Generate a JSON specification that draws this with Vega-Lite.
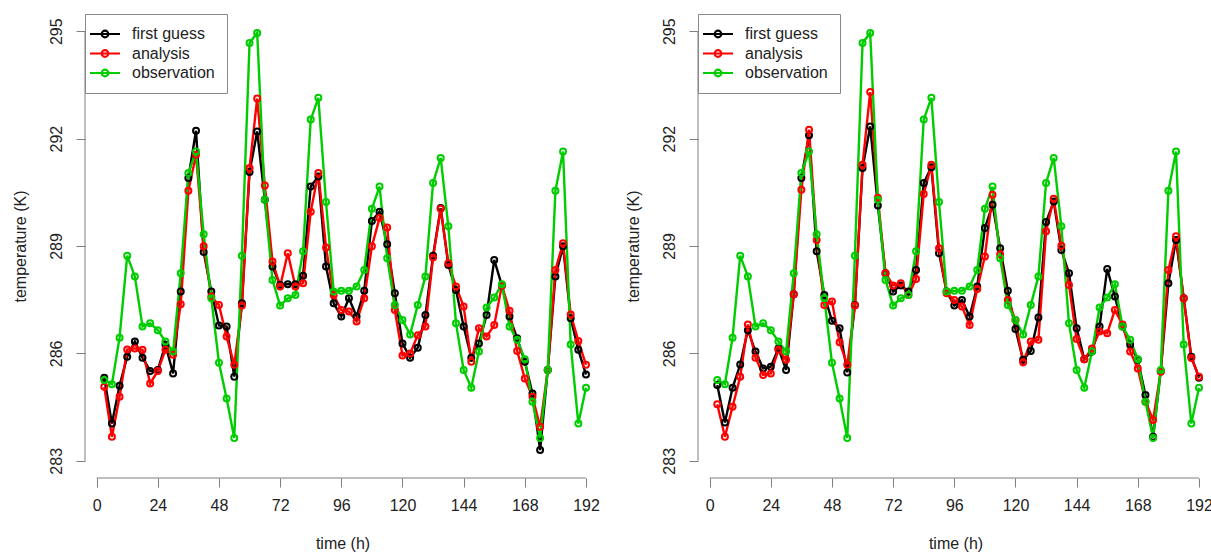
{
  "$schema": "https://vega.github.io/schema/vega-lite/v6.json",
  "padding": {"left": 12, "top": 13, "right": 5, "bottom": 5},
  "background": "white",
  "bounds": "flush",
  "spacing": 98,
  "config": {
    "font": "Liberation Sans",
    "view": {"stroke": null},
    "axis": {"grid": false, "domain": false, "tickColor": "#7f7f7f", "tickSize": 9, "labelFontSize": 16, "titleFontSize": 16, "titleFontWeight": "normal", "labelColor": "#222222", "titleColor": "#222222", "labelFlush": false, "labelOverlap": false, "labelBound": false},
    "legend": {"orient": "top-left", "offset": 0, "padding": 12, "strokeColor": "#888888", "fillColor": "white", "labelFontSize": 16, "labelColor": "#222222", "symbolSize": 100, "symbolStrokeWidth": 2.2, "labelOffset": 19, "rowPadding": 3.5, "cornerRadius": 0}
  },
  "datasets": {
    "d": [
      {"p":"L","s":"first guess","t":3,"v":285.32},{"p":"L","s":"first guess","t":6,"v":284.04},{"p":"L","s":"first guess","t":9,"v":285.10},{"p":"L","s":"first guess","t":12,"v":285.91},{"p":"L","s":"first guess","t":15,"v":286.33},{"p":"L","s":"first guess","t":18,"v":285.88},{"p":"L","s":"first guess","t":21,"v":285.51},{"p":"L","s":"first guess","t":24,"v":285.54},{"p":"L","s":"first guess","t":27,"v":286.24},{"p":"L","s":"first guess","t":30,"v":285.44},{"p":"L","s":"first guess","t":33,"v":287.73},{"p":"L","s":"first guess","t":36,"v":290.90},{"p":"L","s":"first guess","t":39,"v":292.22},{"p":"L","s":"first guess","t":42,"v":288.83},{"p":"L","s":"first guess","t":45,"v":287.73},{"p":"L","s":"first guess","t":48,"v":286.78},{"p":"L","s":"first guess","t":51,"v":286.75},{"p":"L","s":"first guess","t":54,"v":285.35},{"p":"L","s":"first guess","t":57,"v":287.40},{"p":"L","s":"first guess","t":60,"v":291.07},{"p":"L","s":"first guess","t":63,"v":292.20},{"p":"L","s":"first guess","t":66,"v":290.29},{"p":"L","s":"first guess","t":69,"v":288.43},{"p":"L","s":"first guess","t":72,"v":287.91},{"p":"L","s":"first guess","t":75,"v":287.93},{"p":"L","s":"first guess","t":78,"v":287.93},{"p":"L","s":"first guess","t":81,"v":288.17},{"p":"L","s":"first guess","t":84,"v":290.66},{"p":"L","s":"first guess","t":87,"v":290.94},{"p":"L","s":"first guess","t":90,"v":288.43},{"p":"L","s":"first guess","t":93,"v":287.40},{"p":"L","s":"first guess","t":96,"v":287.03},{"p":"L","s":"first guess","t":99,"v":287.54},{"p":"L","s":"first guess","t":102,"v":287.03},{"p":"L","s":"first guess","t":105,"v":287.75},{"p":"L","s":"first guess","t":108,"v":289.70},{"p":"L","s":"first guess","t":111,"v":289.96},{"p":"L","s":"first guess","t":114,"v":289.05},{"p":"L","s":"first guess","t":117,"v":287.68},{"p":"L","s":"first guess","t":120,"v":286.28},{"p":"L","s":"first guess","t":123,"v":285.88},{"p":"L","s":"first guess","t":126,"v":286.16},{"p":"L","s":"first guess","t":129,"v":287.07},{"p":"L","s":"first guess","t":132,"v":288.73},{"p":"L","s":"first guess","t":135,"v":290.06},{"p":"L","s":"first guess","t":138,"v":288.47},{"p":"L","s":"first guess","t":141,"v":287.77},{"p":"L","s":"first guess","t":144,"v":286.75},{"p":"L","s":"first guess","t":147,"v":285.88},{"p":"L","s":"first guess","t":150,"v":286.28},{"p":"L","s":"first guess","t":153,"v":287.07},{"p":"L","s":"first guess","t":156,"v":288.61},{"p":"L","s":"first guess","t":159,"v":287.90},{"p":"L","s":"first guess","t":162,"v":287.03},{"p":"L","s":"first guess","t":165,"v":286.42},{"p":"L","s":"first guess","t":168,"v":285.77},{"p":"L","s":"first guess","t":171,"v":284.88},{"p":"L","s":"first guess","t":174,"v":283.30},{"p":"L","s":"first guess","t":177,"v":285.54},{"p":"L","s":"first guess","t":180,"v":288.15},{"p":"L","s":"first guess","t":183,"v":288.99},{"p":"L","s":"first guess","t":186,"v":286.98},{"p":"L","s":"first guess","t":189,"v":286.10},{"p":"L","s":"first guess","t":192,"v":285.41},
      {"p":"L","s":"analysis","t":3,"v":285.07},{"p":"L","s":"analysis","t":6,"v":283.67},{"p":"L","s":"analysis","t":9,"v":284.79},{"p":"L","s":"analysis","t":12,"v":286.11},{"p":"L","s":"analysis","t":15,"v":286.14},{"p":"L","s":"analysis","t":18,"v":286.10},{"p":"L","s":"analysis","t":21,"v":285.16},{"p":"L","s":"analysis","t":24,"v":285.51},{"p":"L","s":"analysis","t":27,"v":286.10},{"p":"L","s":"analysis","t":30,"v":285.96},{"p":"L","s":"analysis","t":33,"v":287.37},{"p":"L","s":"analysis","t":36,"v":290.54},{"p":"L","s":"analysis","t":39,"v":291.55},{"p":"L","s":"analysis","t":42,"v":288.99},{"p":"L","s":"analysis","t":45,"v":287.59},{"p":"L","s":"analysis","t":48,"v":287.35},{"p":"L","s":"analysis","t":51,"v":286.47},{"p":"L","s":"analysis","t":54,"v":285.68},{"p":"L","s":"analysis","t":57,"v":287.34},{"p":"L","s":"analysis","t":60,"v":291.18},{"p":"L","s":"analysis","t":63,"v":293.12},{"p":"L","s":"analysis","t":66,"v":290.69},{"p":"L","s":"analysis","t":69,"v":288.57},{"p":"L","s":"analysis","t":72,"v":287.87},{"p":"L","s":"analysis","t":75,"v":288.80},{"p":"L","s":"analysis","t":78,"v":287.87},{"p":"L","s":"analysis","t":81,"v":287.96},{"p":"L","s":"analysis","t":84,"v":289.96},{"p":"L","s":"analysis","t":87,"v":291.04},{"p":"L","s":"analysis","t":90,"v":288.96},{"p":"L","s":"analysis","t":93,"v":287.63},{"p":"L","s":"analysis","t":96,"v":287.21},{"p":"L","s":"analysis","t":99,"v":287.17},{"p":"L","s":"analysis","t":102,"v":286.89},{"p":"L","s":"analysis","t":105,"v":287.54},{"p":"L","s":"analysis","t":108,"v":288.99},{"p":"L","s":"analysis","t":111,"v":289.78},{"p":"L","s":"analysis","t":114,"v":289.52},{"p":"L","s":"analysis","t":117,"v":287.21},{"p":"L","s":"analysis","t":120,"v":285.94},{"p":"L","s":"analysis","t":123,"v":286.00},{"p":"L","s":"analysis","t":126,"v":286.51},{"p":"L","s":"analysis","t":129,"v":286.75},{"p":"L","s":"analysis","t":132,"v":288.68},{"p":"L","s":"analysis","t":135,"v":290.04},{"p":"L","s":"analysis","t":138,"v":288.52},{"p":"L","s":"analysis","t":141,"v":287.87},{"p":"L","s":"analysis","t":144,"v":287.31},{"p":"L","s":"analysis","t":147,"v":285.77},{"p":"L","s":"analysis","t":150,"v":286.70},{"p":"L","s":"analysis","t":153,"v":286.47},{"p":"L","s":"analysis","t":156,"v":286.79},{"p":"L","s":"analysis","t":159,"v":287.90},{"p":"L","s":"analysis","t":162,"v":287.19},{"p":"L","s":"analysis","t":165,"v":286.07},{"p":"L","s":"analysis","t":168,"v":285.30},{"p":"L","s":"analysis","t":171,"v":284.79},{"p":"L","s":"analysis","t":174,"v":283.95},{"p":"L","s":"analysis","t":177,"v":285.54},{"p":"L","s":"analysis","t":180,"v":288.33},{"p":"L","s":"analysis","t":183,"v":289.08},{"p":"L","s":"analysis","t":186,"v":287.09},{"p":"L","s":"analysis","t":189,"v":286.35},{"p":"L","s":"analysis","t":192,"v":285.68},
      {"p":"R","s":"first guess","t":3,"v":285.12},{"p":"R","s":"first guess","t":6,"v":284.07},{"p":"R","s":"first guess","t":9,"v":285.04},{"p":"R","s":"first guess","t":12,"v":285.69},{"p":"R","s":"first guess","t":15,"v":286.65},{"p":"R","s":"first guess","t":18,"v":286.05},{"p":"R","s":"first guess","t":21,"v":285.58},{"p":"R","s":"first guess","t":24,"v":285.63},{"p":"R","s":"first guess","t":27,"v":286.14},{"p":"R","s":"first guess","t":30,"v":285.54},{"p":"R","s":"first guess","t":33,"v":287.65},{"p":"R","s":"first guess","t":36,"v":290.90},{"p":"R","s":"first guess","t":39,"v":292.09},{"p":"R","s":"first guess","t":42,"v":288.85},{"p":"R","s":"first guess","t":45,"v":287.63},{"p":"R","s":"first guess","t":48,"v":286.91},{"p":"R","s":"first guess","t":51,"v":286.70},{"p":"R","s":"first guess","t":54,"v":285.47},{"p":"R","s":"first guess","t":57,"v":287.35},{"p":"R","s":"first guess","t":60,"v":291.18},{"p":"R","s":"first guess","t":63,"v":292.34},{"p":"R","s":"first guess","t":66,"v":290.13},{"p":"R","s":"first guess","t":69,"v":288.24},{"p":"R","s":"first guess","t":72,"v":287.73},{"p":"R","s":"first guess","t":75,"v":287.90},{"p":"R","s":"first guess","t":78,"v":287.73},{"p":"R","s":"first guess","t":81,"v":288.33},{"p":"R","s":"first guess","t":84,"v":290.76},{"p":"R","s":"first guess","t":87,"v":291.20},{"p":"R","s":"first guess","t":90,"v":288.80},{"p":"R","s":"first guess","t":93,"v":287.73},{"p":"R","s":"first guess","t":96,"v":287.34},{"p":"R","s":"first guess","t":99,"v":287.49},{"p":"R","s":"first guess","t":102,"v":287.03},{"p":"R","s":"first guess","t":105,"v":287.87},{"p":"R","s":"first guess","t":108,"v":289.50},{"p":"R","s":"first guess","t":111,"v":290.15},{"p":"R","s":"first guess","t":114,"v":288.94},{"p":"R","s":"first guess","t":117,"v":287.75},{"p":"R","s":"first guess","t":120,"v":286.68},{"p":"R","s":"first guess","t":123,"v":285.82},{"p":"R","s":"first guess","t":126,"v":286.07},{"p":"R","s":"first guess","t":129,"v":287.00},{"p":"R","s":"first guess","t":132,"v":289.67},{"p":"R","s":"first guess","t":135,"v":290.24},{"p":"R","s":"first guess","t":138,"v":288.89},{"p":"R","s":"first guess","t":141,"v":288.24},{"p":"R","s":"first guess","t":144,"v":286.70},{"p":"R","s":"first guess","t":147,"v":285.84},{"p":"R","s":"first guess","t":150,"v":286.05},{"p":"R","s":"first guess","t":153,"v":286.75},{"p":"R","s":"first guess","t":156,"v":288.36},{"p":"R","s":"first guess","t":159,"v":287.59},{"p":"R","s":"first guess","t":162,"v":286.75},{"p":"R","s":"first guess","t":165,"v":286.24},{"p":"R","s":"first guess","t":168,"v":285.82},{"p":"R","s":"first guess","t":171,"v":284.84},{"p":"R","s":"first guess","t":174,"v":283.67},{"p":"R","s":"first guess","t":177,"v":285.51},{"p":"R","s":"first guess","t":180,"v":287.96},{"p":"R","s":"first guess","t":183,"v":289.17},{"p":"R","s":"first guess","t":186,"v":287.54},{"p":"R","s":"first guess","t":189,"v":285.91},{"p":"R","s":"first guess","t":192,"v":285.32},
      {"p":"R","s":"analysis","t":3,"v":284.58},{"p":"R","s":"analysis","t":6,"v":283.67},{"p":"R","s":"analysis","t":9,"v":284.51},{"p":"R","s":"analysis","t":12,"v":285.35},{"p":"R","s":"analysis","t":15,"v":286.81},{"p":"R","s":"analysis","t":18,"v":285.88},{"p":"R","s":"analysis","t":21,"v":285.40},{"p":"R","s":"analysis","t":24,"v":285.44},{"p":"R","s":"analysis","t":27,"v":286.10},{"p":"R","s":"analysis","t":30,"v":285.82},{"p":"R","s":"analysis","t":33,"v":287.65},{"p":"R","s":"analysis","t":36,"v":290.57},{"p":"R","s":"analysis","t":39,"v":292.25},{"p":"R","s":"analysis","t":42,"v":289.17},{"p":"R","s":"analysis","t":45,"v":287.35},{"p":"R","s":"analysis","t":48,"v":287.45},{"p":"R","s":"analysis","t":51,"v":286.31},{"p":"R","s":"analysis","t":54,"v":285.68},{"p":"R","s":"analysis","t":57,"v":287.34},{"p":"R","s":"analysis","t":60,"v":291.27},{"p":"R","s":"analysis","t":63,"v":293.30},{"p":"R","s":"analysis","t":66,"v":290.35},{"p":"R","s":"analysis","t":69,"v":288.24},{"p":"R","s":"analysis","t":72,"v":287.90},{"p":"R","s":"analysis","t":75,"v":287.96},{"p":"R","s":"analysis","t":78,"v":287.63},{"p":"R","s":"analysis","t":81,"v":288.08},{"p":"R","s":"analysis","t":84,"v":290.45},{"p":"R","s":"analysis","t":87,"v":291.27},{"p":"R","s":"analysis","t":90,"v":288.94},{"p":"R","s":"analysis","t":93,"v":287.68},{"p":"R","s":"analysis","t":96,"v":287.49},{"p":"R","s":"analysis","t":99,"v":287.31},{"p":"R","s":"analysis","t":102,"v":286.79},{"p":"R","s":"analysis","t":105,"v":287.80},{"p":"R","s":"analysis","t":108,"v":288.71},{"p":"R","s":"analysis","t":111,"v":290.43},{"p":"R","s":"analysis","t":114,"v":288.77},{"p":"R","s":"analysis","t":117,"v":287.49},{"p":"R","s":"analysis","t":120,"v":286.93},{"p":"R","s":"analysis","t":123,"v":285.75},{"p":"R","s":"analysis","t":126,"v":286.33},{"p":"R","s":"analysis","t":129,"v":286.38},{"p":"R","s":"analysis","t":132,"v":289.41},{"p":"R","s":"analysis","t":135,"v":290.32},{"p":"R","s":"analysis","t":138,"v":289.01},{"p":"R","s":"analysis","t":141,"v":287.91},{"p":"R","s":"analysis","t":144,"v":286.40},{"p":"R","s":"analysis","t":147,"v":285.84},{"p":"R","s":"analysis","t":150,"v":286.14},{"p":"R","s":"analysis","t":153,"v":286.61},{"p":"R","s":"analysis","t":156,"v":286.56},{"p":"R","s":"analysis","t":159,"v":287.21},{"p":"R","s":"analysis","t":162,"v":286.81},{"p":"R","s":"analysis","t":165,"v":286.05},{"p":"R","s":"analysis","t":168,"v":285.58},{"p":"R","s":"analysis","t":171,"v":284.65},{"p":"R","s":"analysis","t":174,"v":284.14},{"p":"R","s":"analysis","t":177,"v":285.49},{"p":"R","s":"analysis","t":180,"v":288.33},{"p":"R","s":"analysis","t":183,"v":289.27},{"p":"R","s":"analysis","t":186,"v":287.54},{"p":"R","s":"analysis","t":189,"v":285.87},{"p":"R","s":"analysis","t":192,"v":285.35},
      {"p":"B","s":"observation","t":3,"v":285.26},{"p":"B","s":"observation","t":6,"v":285.14},{"p":"B","s":"observation","t":9,"v":286.44},{"p":"B","s":"observation","t":12,"v":288.73},{"p":"B","s":"observation","t":15,"v":288.15},{"p":"B","s":"observation","t":18,"v":286.75},{"p":"B","s":"observation","t":21,"v":286.84},{"p":"B","s":"observation","t":24,"v":286.65},{"p":"B","s":"observation","t":27,"v":286.33},{"p":"B","s":"observation","t":30,"v":286.05},{"p":"B","s":"observation","t":33,"v":288.24},{"p":"B","s":"observation","t":36,"v":291.04},{"p":"B","s":"observation","t":39,"v":291.64},{"p":"B","s":"observation","t":42,"v":289.33},{"p":"B","s":"observation","t":45,"v":287.54},{"p":"B","s":"observation","t":48,"v":285.74},{"p":"B","s":"observation","t":51,"v":284.74},{"p":"B","s":"observation","t":54,"v":283.64},{"p":"B","s":"observation","t":57,"v":288.73},{"p":"B","s":"observation","t":60,"v":294.67},{"p":"B","s":"observation","t":63,"v":294.95},{"p":"B","s":"observation","t":66,"v":290.29},{"p":"B","s":"observation","t":69,"v":288.05},{"p":"B","s":"observation","t":72,"v":287.34},{"p":"B","s":"observation","t":75,"v":287.54},{"p":"B","s":"observation","t":78,"v":287.63},{"p":"B","s":"observation","t":81,"v":288.85},{"p":"B","s":"observation","t":84,"v":292.53},{"p":"B","s":"observation","t":87,"v":293.14},{"p":"B","s":"observation","t":90,"v":290.23},{"p":"B","s":"observation","t":93,"v":287.73},{"p":"B","s":"observation","t":96,"v":287.75},{"p":"B","s":"observation","t":99,"v":287.75},{"p":"B","s":"observation","t":102,"v":287.87},{"p":"B","s":"observation","t":105,"v":288.33},{"p":"B","s":"observation","t":108,"v":290.04},{"p":"B","s":"observation","t":111,"v":290.66},{"p":"B","s":"observation","t":114,"v":288.66},{"p":"B","s":"observation","t":117,"v":287.35},{"p":"B","s":"observation","t":120,"v":286.93},{"p":"B","s":"observation","t":123,"v":286.53},{"p":"B","s":"observation","t":126,"v":287.35},{"p":"B","s":"observation","t":129,"v":288.15},{"p":"B","s":"observation","t":132,"v":290.76},{"p":"B","s":"observation","t":135,"v":291.46},{"p":"B","s":"observation","t":138,"v":289.55},{"p":"B","s":"observation","t":141,"v":286.84},{"p":"B","s":"observation","t":144,"v":285.54},{"p":"B","s":"observation","t":147,"v":285.04},{"p":"B","s":"observation","t":150,"v":286.05},{"p":"B","s":"observation","t":153,"v":287.28},{"p":"B","s":"observation","t":156,"v":287.56},{"p":"B","s":"observation","t":159,"v":287.93},{"p":"B","s":"observation","t":162,"v":286.75},{"p":"B","s":"observation","t":165,"v":286.38},{"p":"B","s":"observation","t":168,"v":285.84},{"p":"B","s":"observation","t":171,"v":284.65},{"p":"B","s":"observation","t":174,"v":283.64},{"p":"B","s":"observation","t":177,"v":285.54},{"p":"B","s":"observation","t":180,"v":290.54},{"p":"B","s":"observation","t":183,"v":291.64},{"p":"B","s":"observation","t":186,"v":286.25},{"p":"B","s":"observation","t":189,"v":284.04},{"p":"B","s":"observation","t":192,"v":285.04}
    ]
  },
  "resolve": {"scale": {"color": "independent"}, "legend": {"color": "independent"}},
  "hconcat": [
    {
      "width": 515, "height": 464,
      "layer": [
        {
          "data": {"name": "d"},
          "transform": [{"filter": "datum.p != 'R'"}],
          "encoding": {
            "x": {"field": "t", "type": "quantitative", "scale": {"domain": [-4.56, 197.5], "nice": false, "zero": false}, "axis": {"title": "time (h)", "values": [0,24,48,72,96,120,144,168,192], "labelPadding": 10, "titlePadding": 22}},
            "y": {"field": "v", "type": "quantitative", "scale": {"domain": [282.52, 295.48], "nice": false, "zero": false}, "axis": {"title": "temperature (K)", "values": [283,286,289,292,295], "labelAngle": 270, "labelAlign": "center", "labelBaseline": "middle", "labelPadding": 20, "titlePadding": 20}},
            "color": {"field": "s", "type": "nominal", "scale": {"domain": ["first guess", "analysis", "observation"], "range": ["#000000", "#ff0000", "#00cd00"]}, "legend": {"title": null, "padding": 12, "rowPadding": 3.5, "labelOffset": 19, "symbolType": "M-3,0L3,0M0.66,0A0.66,0.66 0 1,1 -0.66,0A0.66,0.66 0 1,1 0.66,0", "symbolSize": 100, "encode": {"symbols": {"update": {"fill": {"value": "transparent"}, "strokeWidth": {"value": 2.2}, "size": {"value": 100}}}}}}
          },
          "layer": [
            {"mark": {"type": "line", "strokeWidth": 2.4}},
            {"mark": {"type": "point", "filled": false, "size": 36, "strokeWidth": 2, "opacity": 1}}
          ]
        },
        {"data": {"values": [{}]}, "mark": {"type": "rule", "color": "#7f7f7f", "strokeWidth": 1}, "encoding": {"x": {"datum": 0, "type": "quantitative"}, "x2": {"datum": 192}, "y": {"datum": 282.52, "type": "quantitative"}}},
        {"data": {"values": [{}]}, "mark": {"type": "rule", "color": "#7f7f7f", "strokeWidth": 1}, "encoding": {"x": {"datum": -4.56, "type": "quantitative"}, "y": {"datum": 283, "type": "quantitative"}, "y2": {"datum": 295}}}
      ]
    },
    {
      "width": 515, "height": 464,
      "layer": [
        {
          "data": {"name": "d"},
          "transform": [{"filter": "datum.p != 'L'"}],
          "encoding": {
            "x": {"field": "t", "type": "quantitative", "scale": {"domain": [-4.56, 197.5], "nice": false, "zero": false}, "axis": {"title": "time (h)", "values": [0,24,48,72,96,120,144,168,192], "labelPadding": 10, "titlePadding": 22}},
            "y": {"field": "v", "type": "quantitative", "scale": {"domain": [282.52, 295.48], "nice": false, "zero": false}, "axis": {"title": "temperature (K)", "values": [283,286,289,292,295], "labelAngle": 270, "labelAlign": "center", "labelBaseline": "middle", "labelPadding": 20, "titlePadding": 20}},
            "color": {"field": "s", "type": "nominal", "scale": {"domain": ["first guess", "analysis", "observation"], "range": ["#000000", "#ff0000", "#00cd00"]}, "legend": {"title": null, "padding": 12, "rowPadding": 3.5, "labelOffset": 19, "symbolType": "M-3,0L3,0M0.66,0A0.66,0.66 0 1,1 -0.66,0A0.66,0.66 0 1,1 0.66,0", "symbolSize": 100, "encode": {"symbols": {"update": {"fill": {"value": "transparent"}, "strokeWidth": {"value": 2.2}, "size": {"value": 100}}}}}}
          },
          "layer": [
            {"mark": {"type": "line", "strokeWidth": 2.4}},
            {"mark": {"type": "point", "filled": false, "size": 36, "strokeWidth": 2, "opacity": 1}}
          ]
        },
        {"data": {"values": [{}]}, "mark": {"type": "rule", "color": "#7f7f7f", "strokeWidth": 1}, "encoding": {"x": {"datum": 0, "type": "quantitative"}, "x2": {"datum": 192}, "y": {"datum": 282.52, "type": "quantitative"}}},
        {"data": {"values": [{}]}, "mark": {"type": "rule", "color": "#7f7f7f", "strokeWidth": 1}, "encoding": {"x": {"datum": -4.56, "type": "quantitative"}, "y": {"datum": 283, "type": "quantitative"}, "y2": {"datum": 295}}}
      ]
    }
  ]
}
